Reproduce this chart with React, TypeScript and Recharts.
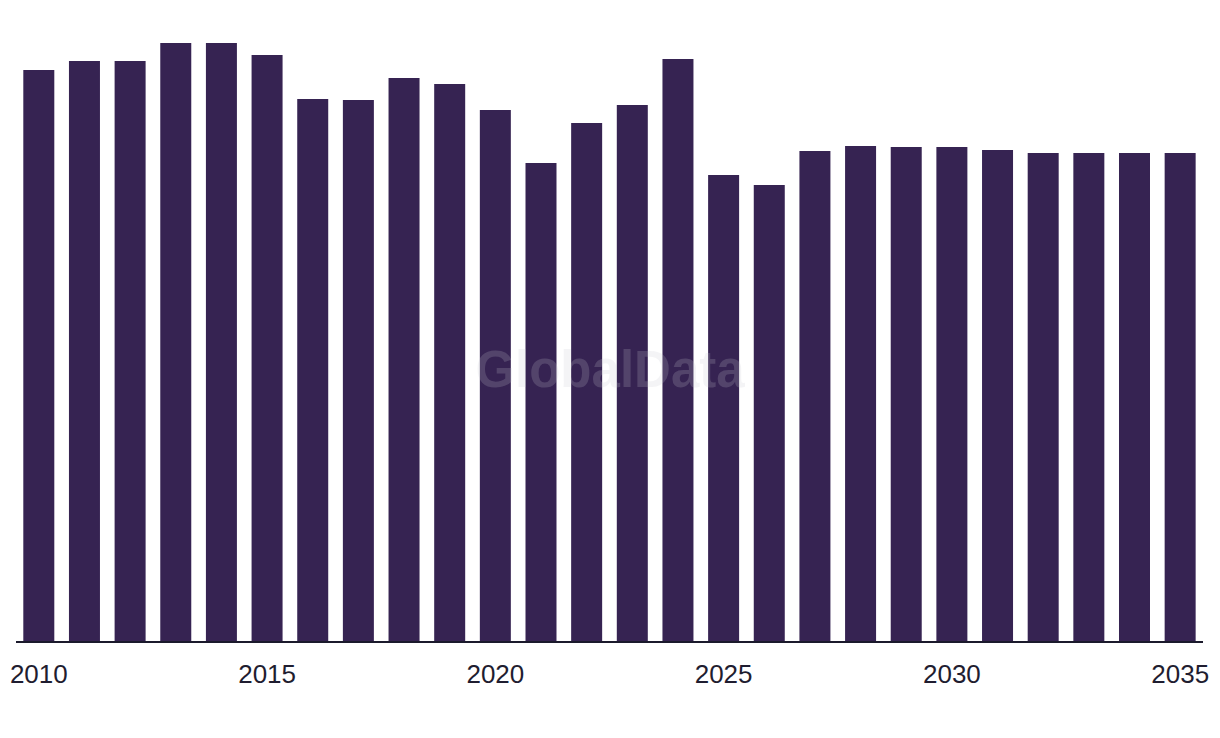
import React from "react";
import { BarChart, Bar, XAxis, YAxis } from "recharts";

const years = [
  "2010","2011","2012","2013","2014","2015","2016","2017","2018","2019",
  "2020","2021","2022","2023","2024","2025","2026","2027","2028","2029",
  "2030","2031","2032","2033","2034","2035",
];
const values = [
  572, 581, 581, 599, 599, 587, 543, 542, 564, 558,
  532, 479, 519, 537, 583, 467, 457, 491, 496, 495,
  495, 492, 489, 489, 489, 489,
];
const tickYears = ["2010", "2015", "2020", "2025", "2030", "2035"];

const data = years.map((y, i) => ({ year: y, value: values[i] }));

export default function App() {
  return (
    <div style={{ position: "relative", width: 1204, height: 722, fontFamily: "'Liberation Sans', Arial, sans-serif" }}>
      <BarChart
        width={1204}
        height={722}
        data={data}
        margin={{ top: 34, right: 9, left: 8, bottom: 0 }}
        barCategoryGap="16%"
      >
        <XAxis
          dataKey="year"
          ticks={tickYears}
          interval={0}
          tickLine={false}
          tickSize={0}
          tickMargin={23}
          height={88}
          axisLine={{ stroke: "#1b1a2c", strokeWidth: 2 }}
          tick={{ fill: "#1f1d30", fontSize: 26, fontFamily: "'Liberation Sans', Arial, sans-serif" }}
        />
        <YAxis hide domain={[0, 600]} />
        <Bar dataKey="value" fill="#362352" isAnimationActive={false} />
      </BarChart>
      <div
        style={{
          position: "absolute",
          left: 0,
          width: 1204,
          top: 333,
          textAlign: "center",
          fontSize: 51,
          fontWeight: 700,
          color: "rgba(200,200,210,0.2)",
          pointerEvents: "none",
          lineHeight: "58px",
        }}
      >
        GlobalData
      </div>
    </div>
  );
}
